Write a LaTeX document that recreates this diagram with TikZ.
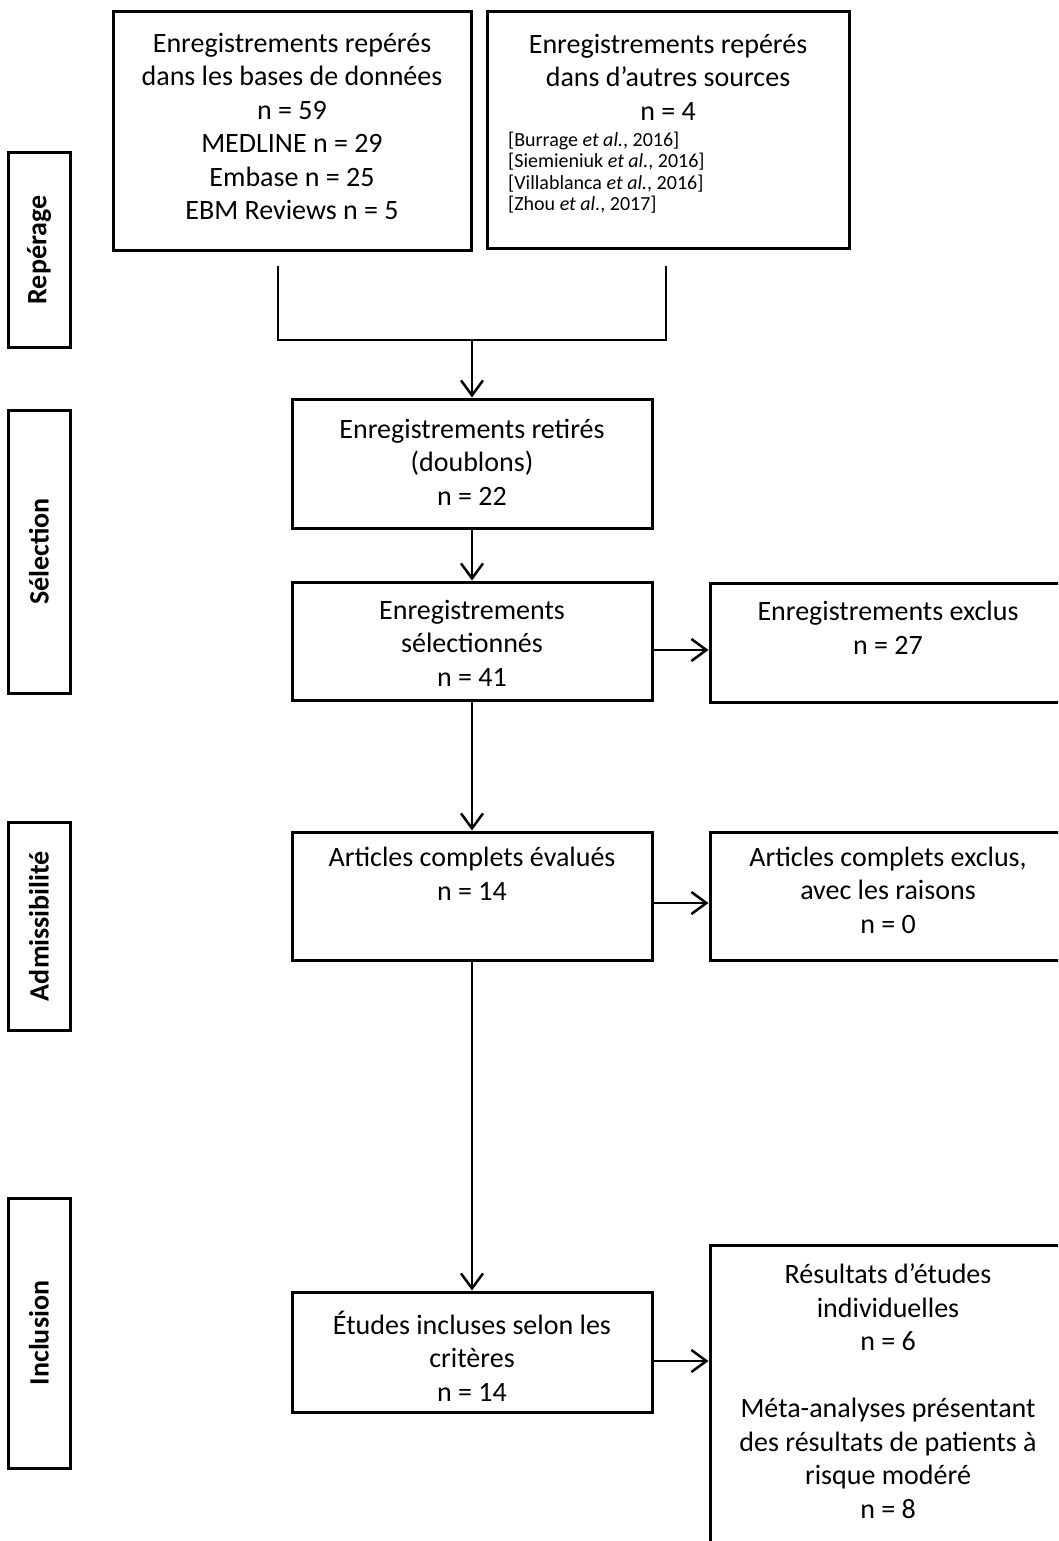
\documentclass[tikz,border=0pt]{standalone}
\usepackage{fontspec}
\setmainfont{Carlito}
\usetikzlibrary{arrows.meta}
\begin{document}
\begin{tikzpicture}[x=1pt,y=-1pt,
  box/.style={draw, line width=3pt, inner sep=0pt},
  sidebox/.style={draw, line width=3pt, inner sep=0pt, rotate=90,
    font=\fontsize{28}{33.5}\selectfont\bfseries},
  txt/.style={font=\fontsize{28}{33.5}\selectfont, align=center, inner sep=0pt},
  smalltxt/.style={font=\fontsize{20}{21.5}\selectfont, align=left, inner sep=0pt},
  conn/.style={line width=2.5pt},
  arr/.style={conn, -{Straight Barb[length=15pt,width=22pt]}},
]
\useasboundingbox (0,0) rectangle (1058,1541);
\clip (0,0) rectangle (1058,1541);

% side labels
\node[sidebox, minimum width=194, minimum height=62] (rep) at (39,250) {Repérage};
\node[sidebox, minimum width=283, minimum height=62] (sels) at (39,551.5) {Sélection};
\node[sidebox, minimum width=208, minimum height=62] (adm) at (39,926) {Admissibilité};
\node[sidebox, minimum width=270, minimum height=62] (inc) at (39,1333) {Inclusion};

% top boxes
\node[box, minimum width=358, minimum height=238] (bA) at (292,131) {};
\node[txt] at (292,126.5) {Enregistrements repérés\\dans les bases de données\\n = 59\\MEDLINE n = 29\\Embase n = 25\\EBM Reviews n = 5};
\node[box, minimum width=362, minimum height=236] (bB) at (668,130) {};
\node[txt] at (668,77) {Enregistrements repérés\\dans d’autres sources\\n = 4};
\node[smalltxt, anchor=west] at (508,172.5) {{[}Burrage \textit{et al.}, 2016{]}\\{[}Siemieniuk \textit{et al.}, 2016{]}\\{[}Villablanca \textit{et al.}, 2016{]}\\{[}Zhou \textit{et al.}, 2017{]}};

% middle column
\node[box, minimum width=360, minimum height=129] (ret) at (472,463.5) {};
\node[txt] at (472,462) {Enregistrements retirés\\(doublons)\\n = 22};
\node[box, minimum width=360, minimum height=118] (sel) at (472,641) {};
\node[txt] at (472,643) {Enregistrements\\sélectionnés\\n = 41};
\node[box, minimum width=360, minimum height=128] (eva) at (472,896) {};
\node[txt] at (472,874) {Articles complets évalués\\n = 14};
\node[box, minimum width=360, minimum height=120] (etu) at (472,1352) {};
\node[txt] at (472,1356) {Études incluses selon les\\critères\\n = 14};

% right column
\node[box, minimum width=358, minimum height=119] (exc) at (889,642.5) {};
\node[txt] at (888,628) {Enregistrements exclus\\n = 27};
\node[box, minimum width=358, minimum height=128] (exa) at (889,896) {};
\node[txt] at (888,890) {Articles complets exclus,\\avec les raisons\\n = 0};
\node[box, minimum width=358, minimum height=315] (res) at (889,1402.5) {};
\node[txt] at (888,1391) {Résultats d’études\\individuelles\\n = 6\\\strut\\Méta-analyses présentant\\des résultats de patients à\\risque modéré\\n = 8};

% connectors
\coordinate (jA) at (278,266);
\coordinate (jB) at (666,266);
\coordinate (jM) at (472,340);
\draw[conn] (jA) -- (jA |- jM) -- (jB |- jM) -- (jB);
\draw[arr] (jM) -- (ret.north);
\draw[arr] (ret.south) -- (sel.north);
\draw[arr] (sel.south) -- (eva.north);
\draw[arr] (eva.south) -- (etu.north);
\coordinate (s1) at ([yshift=-9pt]sel.east);
\draw[arr] (s1) -- (s1 -| exc.west);
\coordinate (s2) at ([yshift=-7pt]eva.east);
\draw[arr] (s2) -- (s2 -| exa.west);
\coordinate (s3) at ([yshift=-9pt]etu.east);
\draw[arr] (s3) -- (s3 -| res.west);
\end{tikzpicture}
\end{document}
